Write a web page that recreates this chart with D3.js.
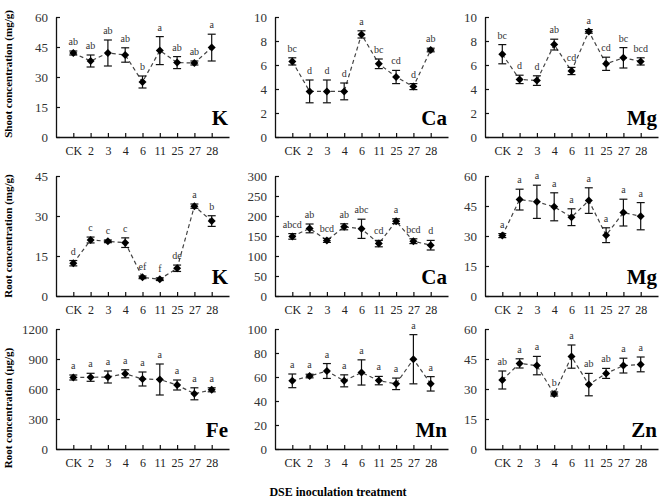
<!DOCTYPE html>
<html>
<head>
<meta charset="utf-8">
<script src="https://cdn.jsdelivr.net/npm/d3@7"></script>
<style>
  body { margin: 0; background: #fff; }
  svg { display: block; }
  text { font-family: "Liberation Serif", "Times New Roman", serif; }
</style>
</head>
<body>
<svg id="chart" width="660" height="498"></svg>
<script>
// ---------------- DATA ----------------
const categories = ["CK", "2", "3", "4", "6", "11", "25", "27", "28"];

const kShootMean = [42, 38, 42, 41, 27.5, 43.2, 37.2, 37, 44.7];
const kShootErr  = [1, 3, 6.5, 3.6, 3, 7, 3, 1, 6.7];
const kShootLetters = ["ab", "ab", "ab", "ab", "b", "a", "ab", "ab", "a"];
const kShootTicks = [0, 15, 30, 45, 60];

const caShootMean = [6.3, 3.8, 3.8, 3.8, 8.55, 6.1, 5.0, 4.2, 7.25];
const caShootErr  = [0.3, 0.95, 0.95, 0.7, 0.3, 0.4, 0.55, 0.25, 0.15];
const caShootLetters = ["bc", "d", "d", "d", "a", "bc", "cd", "d", "ab"];
const caShootTicks = [0, 2, 4, 6, 8, 10];

const mgShootMean = [6.9, 4.8, 4.7, 7.7, 5.5, 8.8, 6.1, 6.6, 6.3];
const mgShootErr  = [0.8, 0.35, 0.4, 0.45, 0.3, 0.15, 0.55, 0.85, 0.3];
const mgShootLetters = ["bc", "d", "d", "ab", "cd", "a", "cd", "bc", "bcd"];
const mgShootTicks = [0, 2, 4, 6, 8, 10];

const kRootMean = [12.3, 21, 20.5, 20, 7, 6.3, 10.4, 33.7, 28.1];
const kRootErr  = [1, 1.1, 0.5, 1.8, 0.5, 0.5, 1.2, 0.8, 2];
const kRootLetters = ["d", "c", "c", "c", "ef", "f", "de", "a", "b"];
const kRootTicks = [0, 15, 30, 45];

const caRootMean = [149, 169, 139, 173, 168, 131, 187, 137, 127];
const caRootErr  = [7, 11, 5, 7.5, 24, 8, 6, 6, 12];
const caRootLetters = ["abcd", "ab", "bcd", "ab", "abc", "cd", "a", "bcd", "d"];
const caRootTicks = [0, 50, 100, 150, 200, 250, 300];

const mgRootMean = [30.2, 48.2, 47.1, 44.6, 39.4, 47.7, 30.4, 41.7, 39.9];
const mgRootErr  = [1, 5.2, 8.3, 7, 4.2, 6.4, 3.7, 6.7, 6.8];
const mgRootLetters = ["a", "a", "a", "a", "a", "a", "a", "a", "a"];
const mgRootTicks = [0, 15, 30, 45, 60];

const feRootMean = [715, 717, 720, 752, 700, 695, 640, 552, 592];
const feRootErr  = [25, 40, 60, 40, 70, 155, 50, 60, 20];
const feRootLetters = ["a", "a", "a", "a", "a", "a", "a", "a", "a"];
const feRootTicks = [0, 300, 600, 900, 1200];

const mnRootMean = [56.8, 60.8, 65, 56.8, 63.8, 57, 54.3, 74.8, 54.3];
const mnRootErr  = [5.7, 1.5, 6.2, 5, 10.5, 3.5, 4.8, 20.5, 6];
const mnRootLetters = ["a", "a", "a", "a", "a", "a", "a", "a", "a"];
const mnRootTicks = [0, 20, 40, 60, 80, 100];

const znRootMean = [34.5, 42.8, 41.7, 27.5, 46.2, 32.2, 37.8, 41.7, 42.3];
const znRootErr  = [4.5, 2.3, 4.6, 1, 5.8, 5.6, 2.5, 3.7, 3.7];
const znRootLetters = ["ab", "a", "a", "b", "a", "ab", "ab", "a", "a"];
const znRootTicks = [0, 15, 30, 45, 60];

const panelElements = ["K", "Ca", "Mg", "K", "Ca", "Mg", "Fe", "Mn", "Zn"];
const rowTitles = ["Shoot concentration (mg/g)", "Root concentration (mg/g)", "Root concentration (\u03bcg/g)"];
const xTitle = "DSE inoculation treatment";

// ---------------- LAYOUT ----------------
const panels = [
  {mean: kShootMean,  err: kShootErr,  letters: kShootLetters,  ticks: kShootTicks},
  {mean: caShootMean, err: caShootErr, letters: caShootLetters, ticks: caShootTicks},
  {mean: mgShootMean, err: mgShootErr, letters: mgShootLetters, ticks: mgShootTicks},
  {mean: kRootMean,   err: kRootErr,   letters: kRootLetters,   ticks: kRootTicks},
  {mean: caRootMean,  err: caRootErr,  letters: caRootLetters,  ticks: caRootTicks},
  {mean: mgRootMean,  err: mgRootErr,  letters: mgRootLetters,  ticks: mgRootTicks},
  {mean: feRootMean,  err: feRootErr,  letters: feRootLetters,  ticks: feRootTicks},
  {mean: mnRootMean,  err: mnRootErr,  letters: mnRootLetters,  ticks: mnRootTicks},
  {mean: znRootMean,  err: znRootErr,  letters: znRootLetters,  ticks: znRootTicks}
];

const colLeft = [56, 275, 485];
const rowTop = [17, 176, 329];
const plotW = 173, plotH = 120;

const svg = d3.select("#chart");

panels.forEach((p, i) => {
  const col = i % 3, row = Math.floor(i / 3);
  const g = svg.append("g").attr("transform", `translate(${colLeft[col]},${rowTop[row]})`);

  const x = d3.scalePoint().domain(categories).range([0, plotW]).padding(1);
  const yMax = p.ticks[p.ticks.length - 1];
  const y = d3.scaleLinear().domain([0, yMax]).range([plotH, 0]);

  // y axis
  const ya = g.append("g").call(d3.axisLeft(y).tickValues(p.ticks).tickFormat(d3.format("d"))
    .tickSizeInner(-4).tickSizeOuter(0).tickPadding(8));
  ya.select(".domain").attr("stroke", "#111").attr("stroke-width", 1.3);
  ya.selectAll(".tick line").attr("stroke", "#111").attr("stroke-width", 1.2);
  ya.selectAll(".tick text").attr("font-size", 13).attr("fill", "#333")
    .attr("font-family", "Liberation Serif, serif");

  // x axis
  const xa = g.append("g").attr("transform", `translate(0,${plotH})`)
    .call(d3.axisBottom(x).tickSizeInner(-4).tickSizeOuter(0).tickPadding(9));
  xa.select(".domain").attr("stroke", "#111").attr("stroke-width", 1.3);
  xa.selectAll(".tick line").attr("stroke", "#111").attr("stroke-width", 1.2);
  xa.selectAll(".tick text").attr("font-size", 12).attr("fill", "#222")
    .attr("font-family", "Liberation Serif, serif");

  const data = categories.map((c, j) => ({c, m: p.mean[j], e: p.err[j], l: p.letters[j]}));

  // dashed line
  const line = d3.line().x(d => x(d.c)).y(d => y(d.m));
  g.append("path").datum(data).attr("d", line)
    .attr("fill", "none").attr("stroke", "#444").attr("stroke-width", 1.2)
    .attr("stroke-dasharray", "4,3");

  // error bars
  const eb = g.selectAll(".eb").data(data).enter().append("g");
  eb.append("line").attr("x1", d => x(d.c)).attr("x2", d => x(d.c))
    .attr("y1", d => y(d.m - d.e)).attr("y2", d => y(d.m + d.e))
    .attr("stroke", "#111").attr("stroke-width", 1.2);
  eb.append("line").attr("x1", d => x(d.c) - 4).attr("x2", d => x(d.c) + 4)
    .attr("y1", d => y(d.m + d.e)).attr("y2", d => y(d.m + d.e))
    .attr("stroke", "#111").attr("stroke-width", 1.2);
  eb.append("line").attr("x1", d => x(d.c) - 4).attr("x2", d => x(d.c) + 4)
    .attr("y1", d => y(d.m - d.e)).attr("y2", d => y(d.m - d.e))
    .attr("stroke", "#111").attr("stroke-width", 1.2);

  // markers
  g.selectAll(".mk").data(data).enter().append("path")
    .attr("d", "M0,-4L4,0L0,4L-4,0Z")
    .attr("transform", d => `translate(${x(d.c)},${y(d.m)})`)
    .attr("fill", "#000");

  // letters
  g.selectAll(".lt").data(data).enter().append("text")
    .attr("x", d => x(d.c)).attr("y", d => y(d.m + d.e) - 6)
    .attr("text-anchor", "middle").attr("font-size", 10).attr("fill", "#333")
    .text(d => d.l);

  // element label
  g.append("text").attr("x", plotW - 1).attr("y", plotH - 12)
    .attr("text-anchor", "end").attr("font-size", 21).attr("font-weight", "bold")
    .attr("fill", "#000").text(panelElements[i]);
});

// row titles
const rowCenters = [74, 236, 408];
rowTitles.forEach((t, r) => {
  svg.append("text")
    .attr("transform", `translate(12,${rowCenters[r]}) rotate(-90)`)
    .attr("text-anchor", "middle").attr("font-size", 11).attr("font-weight", "bold")
    .attr("fill", "#000").text(t);
});

// x title
svg.append("text").attr("x", 338).attr("y", 496)
  .attr("text-anchor", "middle").attr("font-size", 12).attr("font-weight", "bold")
  .attr("fill", "#000").text(xTitle);
</script>
</body>
</html>
